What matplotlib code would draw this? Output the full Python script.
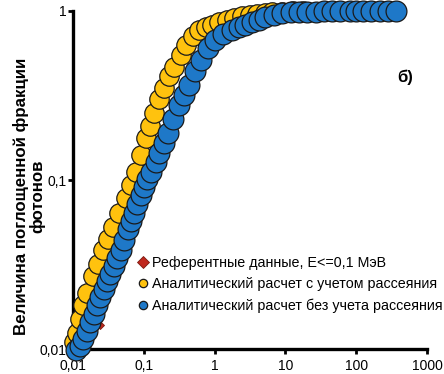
import matplotlib
matplotlib.use("Agg")
import matplotlib.pyplot as plt
from matplotlib.ticker import FixedLocator, FixedFormatter, NullLocator

plt.rcParams['font.family'] = ['Liberation Sans', 'DejaVu Sans']

# --- данные ---
# Референтные данные, E<=0,1 МэВ
ref_x = [0.012, 0.016, 0.020, 0.0243, 0.030, 0.038, 0.048, 0.060, 0.075, 0.095,
         0.120, 0.150, 0.190, 0.240, 0.300, 0.380, 0.480, 0.600, 0.750, 0.950,
         1.20, 1.50, 2.00, 3.00, 5.00, 10.0, 20.0]
ref_y = [0.0100, 0.0128, 0.0155, 0.0139, 0.0235, 0.0295, 0.0370, 0.0480, 0.0610, 0.0790,
         0.0990, 0.1280, 0.1630, 0.2080, 0.2620, 0.3250, 0.4050, 0.4850, 0.5650, 0.6450,
         0.7150, 0.7750, 0.8350, 0.8950, 0.9450, 0.9800, 0.9950]

# Аналитический расчет с учетом рассеяния
scat_x = [0.0105, 0.0114, 0.0125, 0.0139, 0.0160, 0.0193, 0.0225, 0.0268, 0.0310, 0.0373,
          0.0450, 0.0553, 0.0650, 0.0770, 0.0900, 0.1070, 0.1220, 0.1390, 0.1650, 0.1930,
          0.2300, 0.2680, 0.3300, 0.3980, 0.5000, 0.6100, 0.7500, 0.9060, 1.150, 1.480,
          1.900, 2.400, 3.200, 4.000, 5.200, 6.500, 9.000, 12.60, 18.00]
scat_y = [0.0110, 0.0124, 0.0150, 0.0182, 0.0215, 0.0270, 0.0320, 0.0385, 0.0450, 0.0527,
          0.0640, 0.0780, 0.0930, 0.1110, 0.1400, 0.1770, 0.2100, 0.2490, 0.3000, 0.3500,
          0.4100, 0.4660, 0.5500, 0.6290, 0.7100, 0.7720, 0.8000, 0.8260, 0.8550, 0.8800,
          0.9100, 0.9300, 0.9450, 0.9600, 0.9750, 0.9850, 0.9920, 0.9970, 0.9990]

# Аналитический расчет без учета рассеяния
noscat_x = [0.0110, 0.0126, 0.0140, 0.0158, 0.0175, 0.0198, 0.0220, 0.0243, 0.0275, 0.0305,
            0.0338, 0.0380, 0.0420, 0.0469, 0.0530, 0.0600, 0.0660, 0.0720, 0.0800, 0.0900,
            0.1000, 0.1120, 0.1250, 0.1480, 0.1650, 0.1900, 0.2200, 0.2600, 0.3160, 0.3700,
            0.4400, 0.5300, 0.6500, 0.8000, 1.000, 1.300, 1.750, 2.200, 2.680, 3.400,
            4.200, 5.200, 7.000, 9.100, 12.00, 15.80, 20.00, 27.00, 35.00, 46.00,
            60.00, 81.00, 100.0, 125.0, 160.0, 220.0, 280.0, 360.0]
noscat_y = [0.0098, 0.0104, 0.0114, 0.0128, 0.0144, 0.0162, 0.0182, 0.0203, 0.0228, 0.0252,
            0.0278, 0.0310, 0.0345, 0.0385, 0.0440, 0.0510, 0.0570, 0.0638, 0.0720, 0.0810,
            0.0910, 0.1010, 0.1120, 0.1280, 0.1450, 0.1650, 0.1900, 0.2300, 0.2780, 0.3200,
            0.3650, 0.4400, 0.5130, 0.6000, 0.6730, 0.7300, 0.7720, 0.8050, 0.8260, 0.8600,
            0.8900, 0.9200, 0.9500, 0.9700, 0.9800, 0.9860, 0.9900, 0.9920, 0.9950, 0.9970,
            0.9980, 0.9990, 0.9990, 1.0000, 1.0000, 1.0000, 1.0000, 1.0000]

x_ticks = [0.01, 0.1, 1, 10, 100, 1000]
x_tick_labels = ['0,01', '0,1', '1', '10', '100', '1000']
y_ticks = [0.01, 0.1, 1]
y_tick_labels = ['0,01', '0,1', '1']

fig = plt.figure(figsize=(4.44, 3.74), dpi=100)
ax = fig.add_axes([0.1644, 0.0668, 0.7973, 0.9038])

ax.plot(ref_x, ref_y, linestyle='none', marker='D', markersize=4.5,
        markerfacecolor='#C0281E', markeredgecolor='#7A1A10', markeredgewidth=0.6,
        clip_on=False, zorder=3, label='Референтные данные, E<=0,1 МэВ')
ax.plot(scat_x, scat_y, linestyle='none', marker='o', markersize=14,
        markerfacecolor='#FFC20E', markeredgecolor='#1A1A1A', markeredgewidth=0.9,
        clip_on=False, zorder=4, label='Аналитический расчет с учетом рассеяния')
ax.plot(noscat_x, noscat_y, linestyle='none', marker='o', markersize=15,
        markerfacecolor='#1E78C8', markeredgecolor='#1A1A1A', markeredgewidth=0.9,
        clip_on=False, zorder=5, label='Аналитический расчет без учета рассеяния')

ax.set_xscale('log')
ax.set_yscale('log')
ax.set_xlim(0.01, 1000)
ax.set_ylim(0.01, 1)

ax.xaxis.set_major_locator(FixedLocator(x_ticks))
ax.xaxis.set_major_formatter(FixedFormatter(x_tick_labels))
ax.yaxis.set_major_locator(FixedLocator(y_ticks))
ax.yaxis.set_major_formatter(FixedFormatter(y_tick_labels))
ax.xaxis.set_minor_locator(NullLocator())
ax.yaxis.set_minor_locator(NullLocator())

for side in ('top', 'right'):
    ax.spines[side].set_visible(False)
for side in ('left', 'bottom'):
    ax.spines[side].set_linewidth(2.4)
ax.tick_params(axis='both', direction='out', length=3.5, width=2, labelsize=10)
ax.tick_params(axis='x', pad=4)
ax.tick_params(axis='y', pad=1)

fig.text(0.066, 0.475, 'Величина поглощенной фракции\nфотонов', rotation=90,
         ha='center', va='center', multialignment='center',
         fontsize=12.2, fontweight='bold', linespacing=1.05)
fig.text(0.912, 0.794, 'б)', ha='center', va='center', fontsize=12, fontweight='bold')

leg = ax.legend(loc='upper left', bbox_to_anchor=(0.302, 0.33), bbox_transform=fig.transFigure,
                frameon=False, fontsize=10.3, handlelength=0.5,
                handletextpad=0.35, labelspacing=0.5, borderaxespad=0)
for h in leg.legend_handles:
    h.set_markersize(6)

fig.savefig('out.png', dpi=100)
